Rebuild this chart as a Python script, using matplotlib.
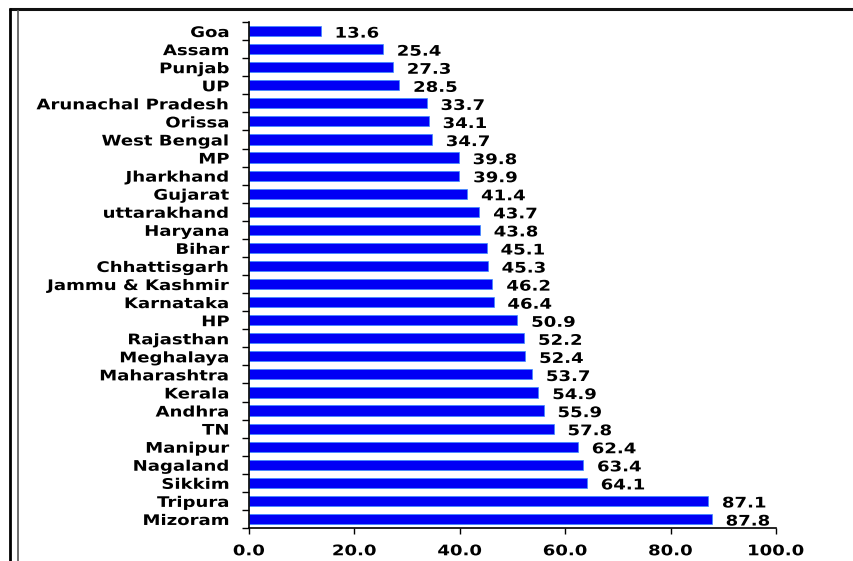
import matplotlib
matplotlib.use("Agg")
import matplotlib.pyplot as plt
from matplotlib.lines import Line2D
from matplotlib.patheffects import AbstractPathEffect
from matplotlib.transforms import Affine2D
import numpy as np

# Top-to-bottom order as drawn
states = [
    "Goa", "Assam", "Punjab", "UP", "Arunachal Pradesh", "Orissa",
    "West Bengal", "MP", "Jharkhand", "Gujarat", "uttarakhand", "Haryana",
    "Bihar", "Chhattisgarh", "Jammu & Kashmir", "Karnataka", "HP",
    "Rajasthan", "Meghalaya", "Maharashtra", "Kerala", "Andhra", "TN",
    "Manipur", "Nagaland", "Sikkim", "Tripura", "Mizoram",
]
values = [
    13.6, 25.4, 27.3, 28.5, 33.7, 34.1,
    34.7, 39.8, 39.9, 41.4, 43.7, 43.8,
    45.1, 45.3, 46.2, 46.4, 50.9,
    52.2, 52.4, 53.7, 54.9, 55.9, 57.8,
    62.4, 63.4, 64.1, 87.1, 87.8,
]
x_ticks = [0, 20, 40, 60, 80, 100]

W, H = 854, 561
FS = 10.5
plt.rcParams["font.family"] = "DejaVu Sans"


class WideText(AbstractPathEffect):
    """Stretch glyphs horizontally about the left, right or centre ink edge."""

    def __init__(self, sx=1.24, anchor="left"):
        super().__init__()
        self.sx = sx
        self.anchor = anchor

    def draw_path(self, renderer, gc, tpath, affine, rgbFace=None):
        ext = tpath.get_extents()
        if self.anchor == "right":
            x0 = ext.x1
        elif self.anchor == "center":
            x0 = 0.5 * (ext.x0 + ext.x1)
        else:
            x0 = 0.0
        stretch = Affine2D().translate(-x0, 0).scale(self.sx, 1).translate(x0, 0)
        renderer.draw_path(gc, tpath, stretch + affine, rgbFace)


fig = plt.figure(figsize=(W / 100, H / 100), dpi=100)
fig.patch.set_facecolor("white")

# axes box in pixel terms: left spine x=249, right x=776, top y=22, bottom y=528
ax = fig.add_axes([249 / W, 1 - 528 / H, (776 - 249) / W, (528 - 22) / H])

n = len(states)
pos = np.arange(n)
ax.barh(pos, values, height=0.56, color="#0000f5",
        edgecolor="#3a8cff", linewidth=0.5, zorder=2)

for y, v in zip(pos, values):
    ax.annotate(f"{v:.1f}", xy=(v, y), xytext=(10, -1.5),
                textcoords="offset points", ha="left", va="center",
                fontsize=FS, fontweight="bold", color="black",
                path_effects=[WideText(anchor="left")])

ax.set_ylim(n - 0.5, -0.5)
ax.set_xlim(0, 100)

ax.set_yticks(pos)
ax.set_yticklabels(states, fontsize=FS, fontweight="bold")
ax.set_yticks(np.arange(n + 1) - 0.5, minor=True)
ax.tick_params(axis="y", which="major", length=0, pad=14)
ax.tick_params(axis="y", which="minor", length=5, width=1.0,
               direction="out", color="black")
for lbl in ax.get_yticklabels():
    lbl.set_path_effects([WideText(anchor="right")])

ax.set_xticks(x_ticks)
ax.set_xticklabels([f"{t:.1f}" for t in x_ticks], fontsize=FS,
                   fontweight="bold")
ax.tick_params(axis="x", which="major", length=4, width=1.0,
               direction="out", color="black", pad=7)
for lbl in ax.get_xticklabels():
    lbl.set_path_effects([WideText(anchor="center")])

for side in ("top", "right"):
    ax.spines[side].set_visible(False)
for side in ("left", "bottom"):
    ax.spines[side].set_color("black")
    ax.spines[side].set_linewidth(1.2)

ax.set_facecolor("white")


# page frame lines around the chart (pixel coordinates)
def px_line(x0, y0, x1, y1, color, lw):
    fig.add_artist(Line2D([x0 / W, x1 / W], [1 - y0 / H, 1 - y1 / H],
                          transform=fig.transFigure, color=color,
                          linewidth=lw, solid_capstyle="butt"))


px_line(9, 8.7, W, 8.7, "#111111", 2.2)
px_line(10.3, 7.5, 10.3, H, "black", 2.0)
px_line(18.3, 10, 18.3, H, "#555555", 1.2)

fig.savefig("out.png", dpi=100, facecolor="white")
